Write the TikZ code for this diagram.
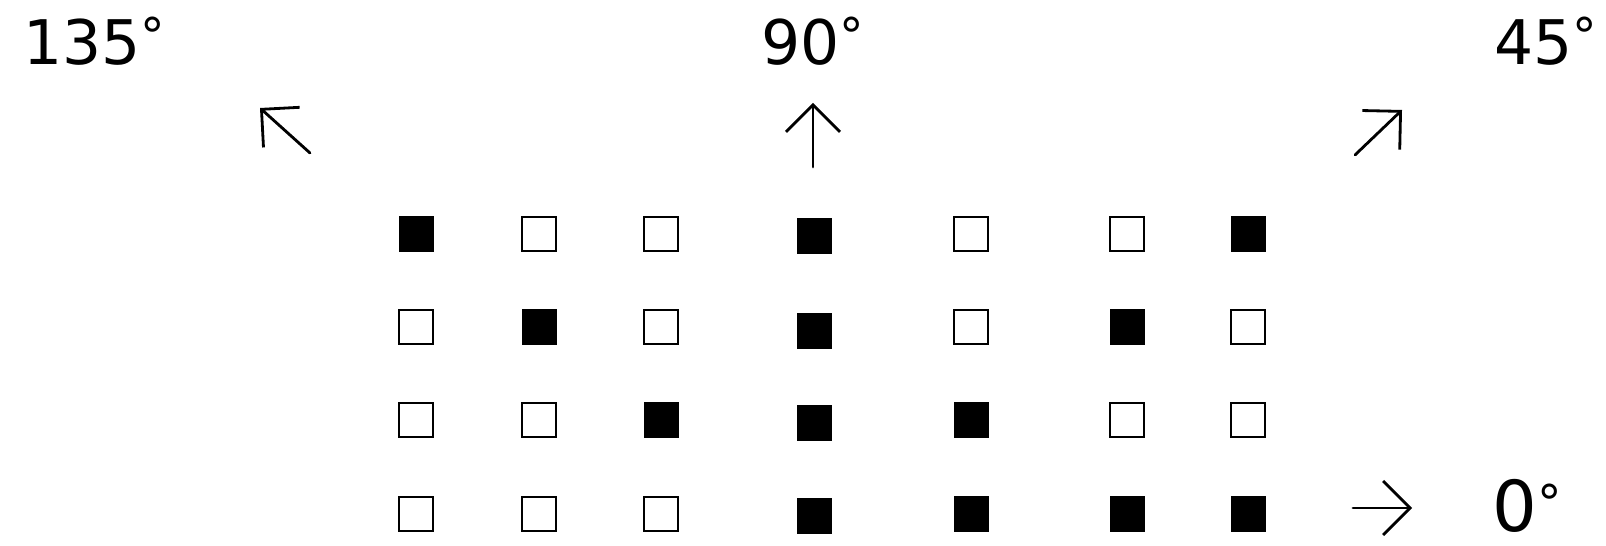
\documentclass[tikz,border=0pt]{standalone}
\usepackage{fontspec}
\setmainfont{DejaVu Sans}
\usetikzlibrary{arrows.meta}
\newcommand{\degmark}{{\fontsize{28}{30}\selectfont\raisebox{6.5pt}{°}}}

\begin{document}
\begin{tikzpicture}[
    anglelabel/.style={inner sep=0pt, font=\fontsize{35}{40}\selectfont},
    onbit/.style={rectangle, fill=black, minimum width=0.70cm, minimum height=0.72cm, inner sep=0pt},
    offbit/.style={rectangle, draw=black, line width=0.9pt, minimum width=0.67cm, minimum height=0.69cm, inner sep=0pt},
    direction/.style={-{Straight Barb[length=5.4mm,width=10.8mm]}, line width=1.6pt, line cap=round, line join=miter}
]
\useasboundingbox (0,0) rectangle (32.12,10.92);

% angle labels
\node[anglelabel, anchor=base west] (Label135) at (0.46,9.62) {135\degmark};
\node[anglelabel, anchor=base west] (Label90) at (15.22,9.62) {90\degmark};
\node[anglelabel, anchor=base west] (Label45) at (29.88,9.62) {45\degmark};
\node[anglelabel, anchor=base west, font=\fontsize{40}{44}\selectfont] (Label0) at (29.84,0.28) {0\degmark};

% arrow ends
\coordinate (Tail135) at (6.20,7.86);
\coordinate (Tip135) at (5.20,8.76);
\coordinate (Tail90) at (16.26,7.58);
\coordinate (Tip90) at (16.26,8.86);
\coordinate (Tail45) at (27.10,7.82);
\coordinate (Tip45) at (28.04,8.72);
\coordinate (Tail0) at (27.06,0.76);
\coordinate (Tip0) at (28.24,0.76);

% row 1
\node[onbit] (R1C1) at (8.32,6.24) {};
\node[offbit] (R1C2) at (10.78,6.24) {};
\node[offbit] (R1C3) at (13.22,6.24) {};
\node[onbit] (R1C4) at (16.28,6.20) {};
\node[offbit] (R1C5) at (19.42,6.24) {};
\node[offbit] (R1C6) at (22.54,6.24) {};
\node[onbit] (R1C7) at (24.96,6.24) {};

% row 2
\node[offbit] (R2C1) at (8.32,4.38) {};
\node[onbit] (R2C2) at (10.78,4.38) {};
\node[offbit] (R2C3) at (13.22,4.38) {};
\node[onbit] (R2C4) at (16.28,4.30) {};
\node[offbit] (R2C5) at (19.42,4.38) {};
\node[onbit] (R2C6) at (22.54,4.38) {};
\node[offbit] (R2C7) at (24.96,4.38) {};

% row 3
\node[offbit] (R3C1) at (8.32,2.52) {};
\node[offbit] (R3C2) at (10.78,2.52) {};
\node[onbit] (R3C3) at (13.22,2.52) {};
\node[onbit] (R3C4) at (16.28,2.46) {};
\node[onbit] (R3C5) at (19.42,2.52) {};
\node[offbit] (R3C6) at (22.54,2.52) {};
\node[offbit] (R3C7) at (24.96,2.52) {};

% row 4
\node[offbit] (R4C1) at (8.32,0.64) {};
\node[offbit] (R4C2) at (10.78,0.64) {};
\node[offbit] (R4C3) at (13.22,0.64) {};
\node[onbit] (R4C4) at (16.28,0.60) {};
\node[onbit] (R4C5) at (19.42,0.64) {};
\node[onbit] (R4C6) at (22.54,0.64) {};
\node[onbit] (R4C7) at (24.96,0.64) {};

\draw[direction] (Tail135) -- (Tip135);
\draw[direction] (Tail90) -- (Tip90);
\draw[direction] (Tail45) -- (Tip45);
\draw[direction] (Tail0) -- (Tip0);
\end{tikzpicture}
\end{document}
